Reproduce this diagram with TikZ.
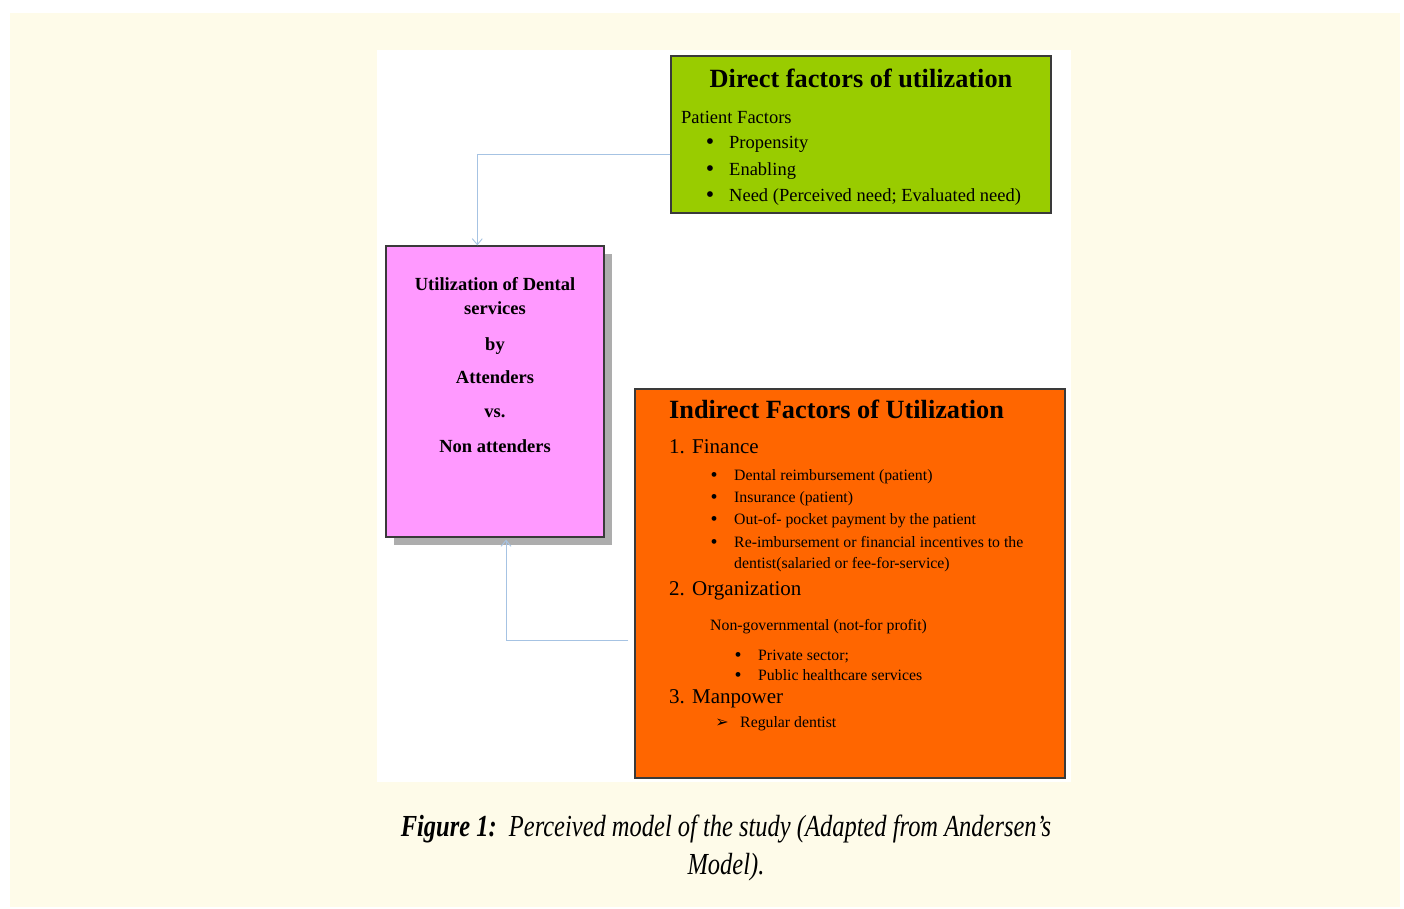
\documentclass[tikz,border=0pt]{standalone}
\usepackage{fontspec}
\setmainfont{Liberation Serif}
\newfontfamily\symfont{DejaVu Sans}
\newfontfamily\capfont[FakeStretch=0.8]{Liberation Serif}
\usetikzlibrary{shadows,arrows.meta}
\definecolor{cream}{HTML}{FEFBE9}
\definecolor{dirgreen}{HTML}{99CC00}
\definecolor{utilpink}{HTML}{FF99FF}
\definecolor{indorange}{HTML}{FF6600}
\definecolor{boxline}{HTML}{3A3A3A}
\definecolor{shadowgray}{HTML}{ADADAD}
\definecolor{linkblue}{HTML}{A6C3E3}

\begin{document}
\begin{tikzpicture}[x=1pt,y=-1pt,
  box/.style={draw=boxline,line width=1.3pt,inner sep=0pt},
  link/.style={-{Straight Barb[length=6pt,width=10pt,line width=0.9pt]},draw=linkblue,line width=0.9pt},
  line/.style={anchor=base west,inner sep=0pt},
  mid/.style={anchor=base,inner sep=0pt},
  bigbold/.style={font=\bfseries\fontsize{26.3}{30}\selectfont},
  body/.style={font=\fontsize{18.5}{22}\selectfont},
  head/.style={font=\fontsize{21}{25}\selectfont},
  small/.style={font=\fontsize{15.8}{18}\selectfont},
  dot/.style={mid,font=\fontsize{24}{24}\selectfont}]
  \useasboundingbox (0,0) rectangle (1404,909);
  \fill[cream] (10,13) rectangle (1400,907);
  \fill[white] (377,50) rectangle (1071,782);

  % boxes
  \node[box,fill=dirgreen,minimum width=380pt,minimum height=157pt] (direct) at (861,134.5) {};
  \node[box,fill=utilpink,minimum width=218pt,minimum height=291pt,
    general shadow={fill=shadowgray,shadow xshift=8pt,shadow yshift=-8pt}] (util) at (495,391.5) {};
  \node[box,fill=indorange,minimum width=430pt,minimum height=389pt] (indirect) at (850,583.5) {};

  % connectors
  \draw[link] ([yshift=-19.8pt]direct.west) -| ([xshift=-17.7pt]util.north);
  \draw[link,shorten <=6pt] ([yshift=-57pt]indirect.west) -| ([xshift=11pt,yshift=-2pt]util.south);

  % direct factors
  \node[mid,bigbold] (dirtitle) at (861,88) {Direct factors of utilization};
  \node[line,body] (patient) at (681,124) {Patient Factors};
  \foreach \y/\t in {149/Propensity,176/Enabling,202/{Need (Perceived need; Evaluated need)}}
    {
      \node[dot] (dirdot\y) at (710,\y+1) {\textbullet};
      \node[line,body] (dirtxt\y) at (729,\y) {\t};
    }

  % utilization
  \foreach \y/\t in {290/Utilization of Dental,314/services,350/by,383/Attenders,417/vs.,452/Non attenders}
    \node[mid,font=\bfseries\fontsize{18.5}{22}\selectfont] (util\y) at (495,\y) {\t};

  % indirect factors
  \node[line,bigbold] (indtitle) at (669,418) {Indirect Factors of Utilization};
  \node[line,head] (finnum) at (669,453) {1.};
  \node[line,head] (fin) at (692,453) {Finance};
  \foreach \y/\t in {480/{Dental reimbursement (patient)},502/{Insurance (patient)},524/{Out-of- pocket payment by the patient},547/{Re-imbursement or financial incentives to the}}
    {
      \node[dot,font=\fontsize{20}{20}\selectfont] (findot\y) at (714,\y+1) {\textbullet};
      \node[line,small] (fintxt\y) at (734,\y) {\t};
    }
  \node[line,small] (fintxt568) at (734,568) {dentist(salaried or fee-for-service)};
  \node[line,head] (orgnum) at (669,595) {2.};
  \node[line,head] (org) at (692,595) {Organization};
  \node[line,small] (nongov) at (710,630) {Non-governmental (not-for profit)};
  \foreach \y/\t in {660/{Private sector;},680/{Public healthcare services}}
    {
      \node[dot,font=\fontsize{20}{20}\selectfont] (orgdot\y) at (738,\y+1) {\textbullet};
      \node[line,small] (orgtxt\y) at (758,\y) {\t};
    }
  \node[line,head] (mannum) at (669,703) {3.};
  \node[line,head] (man) at (692,703) {Manpower};
  \node[mid,font=\symfont\fontsize{16}{16}\selectfont] (mandot) at (722,727) {➢};
  \node[line,small] (mantxt) at (740,727) {Regular dentist};

  % caption
  \node[mid,font=\capfont\itshape\fontsize{30.6}{36}\selectfont] (cap1) at (726,836)
    {\textbf{Figure 1:}\ \ Perceived model of the study (Adapted from Andersen’s};
  \node[mid,font=\capfont\itshape\fontsize{30.6}{36}\selectfont] (cap2) at (726,874) {Model).};
\end{tikzpicture}
\end{document}
